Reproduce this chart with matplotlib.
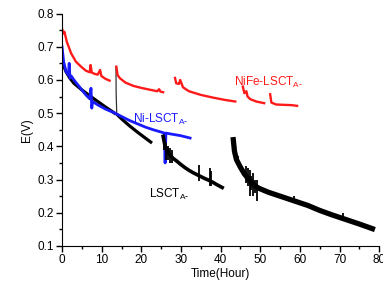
import matplotlib
matplotlib.use("Agg")
import matplotlib.pyplot as plt
from matplotlib.ticker import MultipleLocator

plt.rcParams['font.family'] = ['Liberation Sans', 'DejaVu Sans']

# NiFe-LSCT_A- (red) segments
red_t = [
    [0, 0.3, 0.6, 1.2, 2.3, 3.5, 4.8, 6.0, 7.0, 7.2, 7.5, 8.3, 9.0, 9.6, 9.9, 11.0, 12.0],
    [13.7, 14.0, 14.6, 16, 18, 20, 22, 24, 24.5, 24.8, 25.5],
    [28.5, 28.8, 29.5, 29.8, 30.5, 32, 35, 38, 41, 43.7],
    [45.6, 46.0, 46.5, 46.8, 47.5, 49, 51],
    [52.5, 52.8, 54, 56, 58, 59.3],
]
red_v = [
    [0.755, 0.74, 0.745, 0.715, 0.68, 0.655, 0.64, 0.628, 0.623, 0.645, 0.622, 0.618, 0.616, 0.63, 0.612, 0.603, 0.598],
    [0.64, 0.615, 0.605, 0.592, 0.582, 0.576, 0.571, 0.566, 0.572, 0.565, 0.563],
    [0.606, 0.59, 0.588, 0.6, 0.578, 0.566, 0.555, 0.547, 0.54, 0.535],
    [0.58, 0.56, 0.566, 0.55, 0.542, 0.535, 0.53],
    [0.557, 0.532, 0.526, 0.525, 0.524, 0.522],
]

# Ni-LSCT_A- (blue)
blue_t = [0, 0.4, 1.0, 1.6, 1.8, 2.0, 2.3, 3, 4, 5, 6, 7, 7.3, 7.5, 7.7, 9, 11, 13, 15, 17, 19,
          21, 23, 25, 25.8, 26.0, 26.2, 28, 30, 32.3]
blue_v = [0.70, 0.655, 0.625, 0.615, 0.65, 0.605, 0.612, 0.6, 0.585, 0.57, 0.555, 0.543, 0.575,
          0.515, 0.535, 0.525, 0.512, 0.502, 0.49, 0.478, 0.468, 0.458, 0.45, 0.443, 0.44, 0.35,
          0.44, 0.436, 0.432, 0.425]

# LSCT_A- (black) segments
black_t = [
    [0, 0.5, 1, 2, 3, 5, 7, 9, 11, 13, 13.6],
    [13.8, 15, 17, 19, 21, 22.7],
    [25.5, 26, 27, 28, 29, 30, 31, 32, 33, 34, 35, 36, 37, 38, 39, 40.4],
    [43.2, 43.5, 44, 45, 46, 47, 48, 49, 50, 52, 55, 58, 60, 62, 65, 68, 70, 72, 75, 78.3],
]
black_v = [
    [0.665, 0.64, 0.625, 0.605, 0.59, 0.57, 0.552, 0.535, 0.518, 0.502, 0.497],
    [0.497, 0.483, 0.462, 0.443, 0.425, 0.41],
    [0.43, 0.40, 0.378, 0.364, 0.355, 0.345, 0.336, 0.328, 0.321, 0.315, 0.309, 0.303, 0.298,
     0.292, 0.285, 0.276],
    [0.42, 0.385, 0.36, 0.337, 0.317, 0.302, 0.288, 0.278, 0.272, 0.262, 0.25, 0.238, 0.23, 0.222,
     0.207, 0.194, 0.186, 0.178, 0.166, 0.152],
]
# thin restart jump of the black curve at ~13.6 h
black_jump_t = [13.6, 13.65, 13.8]
black_jump_v = [0.64, 0.56, 0.497]
# noise spikes on the black curve: time, low, high
spike_t = [25.8, 26.3, 26.8, 27.3, 27.7, 34.6, 37.2, 37.6, 44.3, 46.4, 46.9, 47.3, 47.7, 48.1,
           48.6, 49.2, 58.5, 71.0]
spike_lo = [0.39, 0.36, 0.36, 0.35, 0.35, 0.295, 0.28, 0.28, 0.34, 0.29, 0.28, 0.25, 0.27, 0.25,
            0.26, 0.235, 0.228, 0.178]
spike_hi = [0.425, 0.41, 0.40, 0.395, 0.39, 0.345, 0.335, 0.325, 0.37, 0.34, 0.335, 0.33, 0.31,
            0.32, 0.30, 0.30, 0.25, 0.198]

fig = plt.figure(figsize=(3.83, 2.88), dpi=100)
ax = fig.add_axes([0.162, 0.146, 0.828, 0.807])

ax.plot(black_t[0], black_v[0], color='black', lw=2.3, solid_capstyle='butt')
ax.plot(black_jump_t, black_jump_v, color='#333333', lw=0.9)
ax.plot(black_t[1], black_v[1], color='black', lw=2.3, solid_capstyle='butt')
ax.plot(blue_t, blue_v, color='#1a1aff', lw=2.0)
ax.plot(black_t[2], black_v[2], color='black', lw=2.6)
ax.plot(black_t[3], black_v[3], color='black', lw=3.8)
ax.vlines(spike_t, spike_lo, spike_hi, color='black', lw=1.3)
for t, v in zip(red_t, red_v):
    ax.plot(t, v, color='#ff1a1a', lw=1.7)

ax.set_xlim(0, 80)
ax.set_ylim(0.1, 0.8)
ax.xaxis.set_major_locator(MultipleLocator(10))
ax.xaxis.set_minor_locator(MultipleLocator(5))
ax.yaxis.set_major_locator(MultipleLocator(0.1))
ax.yaxis.set_minor_locator(MultipleLocator(0.05))
ax.spines['top'].set_visible(False)
ax.spines['right'].set_visible(False)
ax.tick_params(which='major', direction='out', length=4, width=1, labelsize=8.5, pad=2)
ax.tick_params(which='minor', direction='out', length=2, width=1)
ax.set_xlabel('Time(Hour)', fontsize=8.5, labelpad=1)
ax.set_ylabel('E(V)', fontsize=8.5, labelpad=3)

ax.text(43.5, 0.583, r'NiFe-LSCT$_{\mathregular{A\text{-}}}$', color='#ff1a1a', fontsize=8.5)
ax.text(18, 0.47, r'Ni-LSCT$_{\mathregular{A\text{-}}}$', color='#1a1aff', fontsize=8.5)
ax.text(22, 0.245, r'LSCT$_{\mathregular{A\text{-}}}$', color='black', fontsize=8.5)

fig.savefig('out.png', dpi=100)
